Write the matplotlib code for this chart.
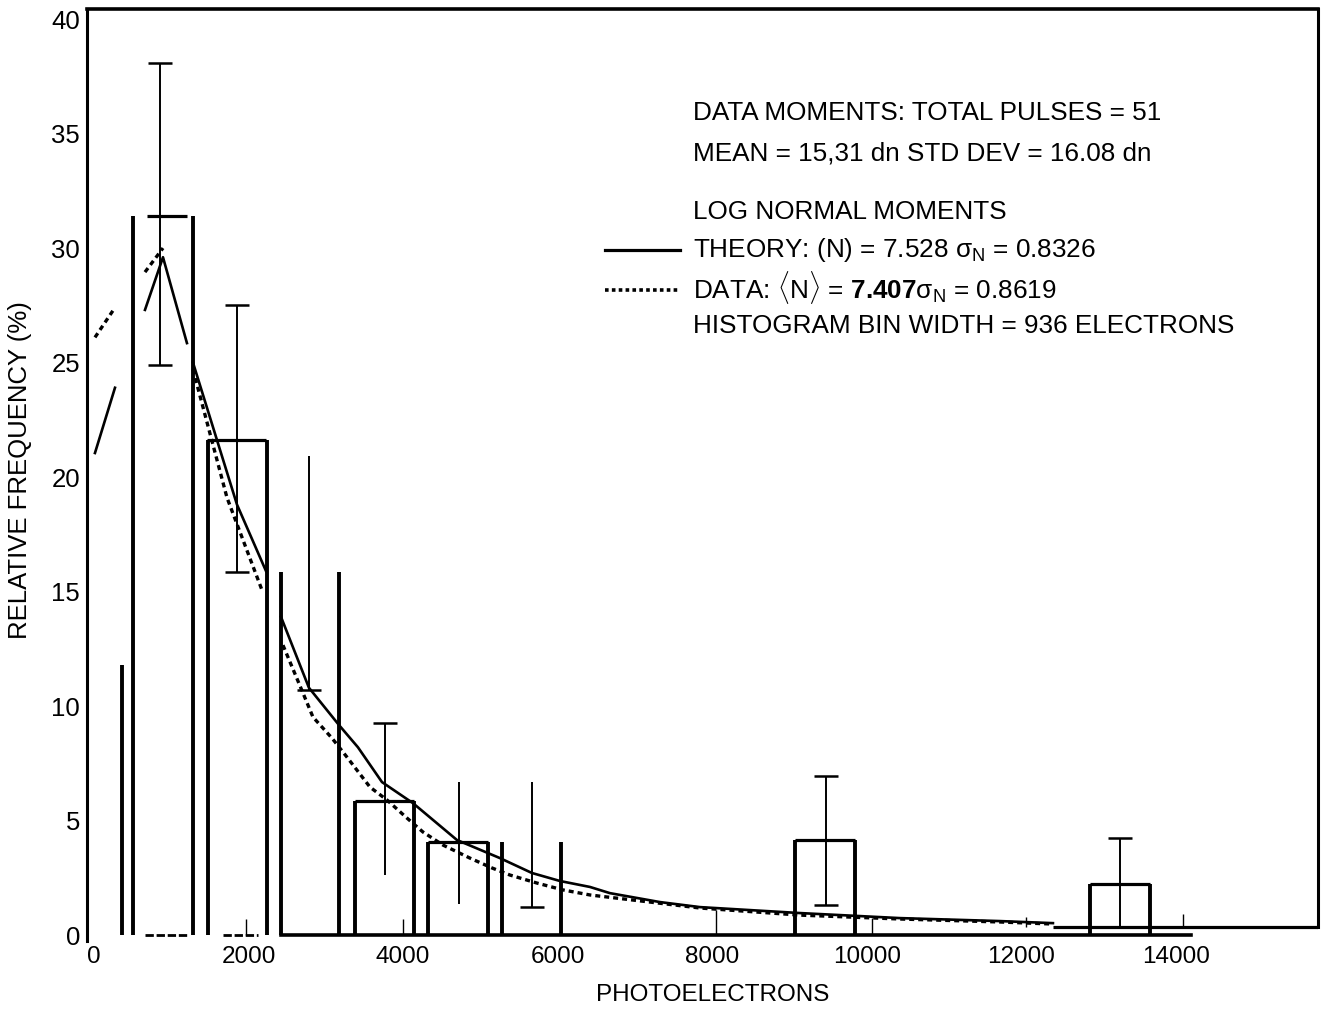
import numpy as np
import matplotlib.pyplot as plt
from matplotlib.lines import Line2D

plt.rcParams['font.family'] = ['Liberation Sans', 'DejaVu Sans']
plt.rcParams['mathtext.fontset'] = 'custom'
plt.rcParams['mathtext.rm'] = 'Liberation Sans'
plt.rcParams['mathtext.it'] = 'Liberation Sans:italic'
plt.rcParams['mathtext.bf'] = 'Liberation Sans:bold'

nan = np.nan

#%% histogram (photoelectrons, relative frequency %)
edge_x = [362, 505, 1281, 1475, 2238, 2419, 3170, 3377, 4140, 4321, 5097,
          5278, 6042, 9069, 9845, 12885, 13661]
edge_h = [11.8, 31.4, 31.4, 21.6, 21.6, 15.85, 15.85, 5.85, 5.85, 4.06, 4.06,
          4.06, 4.06, 4.15, 4.15, 2.24, 2.24]

top_y = [31.4, 21.6, 5.85, 4.06, 4.15, 2.24, 0.35]
top_x0 = [686, 1462, 3377, 4321, 9069, 12885, 12406]
top_x1 = [1203, 2225, 4140, 5097, 9845, 13661, 15835]

base_x0 = [660, 1669]
base_x1 = [1203, 2122]

err_x = [854, 1850, 2781, 3765, 4722, 5666, 9470, 13273]
err_lo = [24.9, 15.85, 10.7, 2.62, 1.35, 1.22, 1.31, 0.35]
err_hi = [38.1, 27.5, 20.9, 9.26, 6.68, 6.68, 6.94, 4.24]

cap_x = [854, 854, 1850, 1850, 2781, 3765, 5666, 9470, 9470, 13273]
cap_y = [38.1, 24.9, 27.5, 15.85, 10.7, 9.26, 1.22, 6.94, 1.31, 4.24]

mark_x = [1966, 3997, 8047, 10065, 12057, 14088]
mark_lo = [0, 0, 0, 0, 0.35, 0.35]
mark_hi = [0.7, 0.7, 1.1, 0.75, 0.8, 0.9]

#%% log normal curves (gaps where the scan breaks them)
theory_x = [13, 272, nan, 660, 893, 1203, nan, 1281, 1850, 2225, nan,
            2419, 2781, 3170, 3415, 3726, 4127, 4696, 5252, 5666, 6029, 6417,
            6675, 7322, 7840, 9134, 10427, 11721, 12406]
theory_y = [21.05, 23.9, nan, 27.3, 29.6, 25.85, nan, 25.0, 18.8, 15.9, nan,
            13.9, 10.8, 9.17, 8.2, 6.68, 5.76, 4.15, 3.36, 2.71, 2.36, 2.10,
            1.83, 1.44, 1.22, 0.96, 0.74, 0.61, 0.52]

data_x = [13, 272, nan, 660, 893, nan, 1281, 1721, 2173, nan,
          2445, 2704, 2833, 3079, 3273, 3571, 3790, 4049, 4256, 4515, 4864,
          5149, 5382, 5731, 6068, 6417, 7193, 7840, 9134, 10427, 11721, 12406]
data_y = [26.1, 27.4, nan, 28.95, 30.0, nan, 24.7, 19.1, 15.07, nan,
          12.66, 10.57, 9.52, 8.6, 7.77, 6.46, 5.9, 5.11, 4.5, 3.93, 3.36,
          2.93, 2.62, 2.27, 1.97, 1.75, 1.44, 1.18, 0.87, 0.70, 0.57, 0.48]

xticks = [0, 2000, 4000, 6000, 8000, 10000, 12000, 14000]
yticks = [0, 5, 10, 15, 20, 25, 30, 35, 40]

legend_lines = [
    'DATA MOMENTS: TOTAL PULSES = 51',
    'MEAN = 15,31 dn STD DEV = 16.08 dn',
    'LOG NORMAL MOMENTS',
    r'THEORY: (N) = 7.528 σ$_{\mathregular{N}}$ = 0.8326',
    r'DATA: $\langle$N$\rangle$ = $\mathbf{7.407}$σ$_{\mathregular{N}}$ = 0.8619',
    'HISTOGRAM BIN WIDTH = 936 ELECTRONS',
]
legend_ypix = [113, 153, 212, 250, 288, 326]

#%%
W, H = 1324, 1009
fig = plt.figure(figsize=(W / 100, H / 100), dpi=100)
ax = fig.add_axes([87 / W, 1 - 941 / H, (1318 - 87) / W, (941 - 9) / H])

ax.vlines(edge_x, 0, edge_h, color='k', lw=2.8)
ax.hlines(top_y, top_x0, top_x1, color='k', lw=2.3)
ax.hlines([0, 0], base_x0, base_x1, color='k', lw=2.0, linestyles=(0, (3, 1)))
ax.vlines(err_x, err_lo, err_hi, color='k', lw=1.4)
ax.hlines(cap_y, np.array(cap_x) - 150, np.array(cap_x) + 150, color='k', lw=1.8)
ax.vlines(mark_x, mark_lo, mark_hi, color='k', lw=1.0)

ax.plot(theory_x, theory_y, color='k', lw=1.9)
ax.plot(data_x, data_y, color='k', lw=2.4, linestyle=(0, (1.5, 1.2)))

ax.set_xlim(-90, 15835)
ax.set_ylim(-0.26, 40.44)
ax.set_xticks(xticks)
ax.set_xticklabels([str(t) for t in xticks])
ax.set_yticks(yticks)
ax.tick_params(length=0)
ax.tick_params(axis='x', pad=8, labelsize=17.5)
ax.tick_params(axis='y', pad=5, labelsize=18.5)

ax.spines['left'].set_linewidth(2.2)
ax.spines['top'].set_linewidth(2.6)
ax.spines['right'].set_linewidth(2.2)
ax.spines['right'].set_bounds(0.35, 40.44)
ax.spines['bottom'].set_position(('data', 0))
ax.spines['bottom'].set_bounds(2419, 14190)
ax.spines['bottom'].set_linewidth(2.6)

fig.text(713 / W, 1 - 995 / H, 'PHOTOELECTRONS', fontsize=17.5,
         ha='center', va='center')
fig.text(20 / W, 1 - 470 / H, 'RELATIVE FREQUENCY (%)', fontsize=18.5,
         rotation=90, ha='center', va='center')

for s, yp in zip(legend_lines, legend_ypix):
    fig.text(693 / W, 1 - yp / H, s, fontsize=18.8, ha='left', va='center')

fig.add_artist(Line2D([605 / W, 680 / W], [1 - 250 / H] * 2, color='k', lw=2.3,
                      transform=fig.transFigure))
fig.add_artist(Line2D([605 / W, 680 / W], [1 - 290 / H] * 2, color='k', lw=2.6,
                      linestyle=(0, (1, 0.9)), transform=fig.transFigure))

fig.savefig('out.png', dpi=100)
